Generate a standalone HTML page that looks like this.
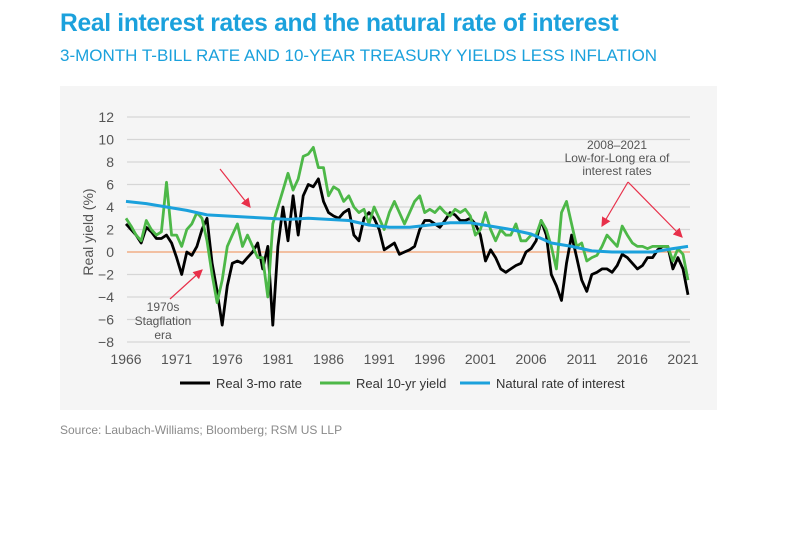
<!DOCTYPE html>
<html><head><meta charset="utf-8"><style>
body{margin:0;background:#fff;font-family:"Liberation Sans",sans-serif;}
#wrap{position:relative;width:786px;height:550px;overflow:hidden}
</style></head><body>
<div id="wrap">
<div style="position:absolute;left:60px;top:10px;font-size:24.6px;font-weight:bold;color:#1ba1dc;letter-spacing:-0.3px">Real interest rates and the natural rate of interest</div>
<div style="position:absolute;left:60px;top:46px;font-size:17px;color:#1ba1dc">3-MONTH T-BILL RATE AND 10-YEAR TREASURY YIELDS LESS INFLATION</div>
<svg id="chart" width="786" height="550" style="position:absolute;left:0;top:0">
<rect x="60" y="86" width="657" height="324" fill="#f5f5f5"/>
</svg>
<div style="position:absolute;left:60px;top:423px;font-size:12px;color:#8a8a8a">Source: Laubach-Williams; Bloomberg; RSM US LLP</div>
</div>
<script>
const years=[1966,1966.5,1967,1967.5,1968,1968.5,1969,1969.5,1970,1970.5,1971,1971.5,1972,1972.5,1973,1973.5,1974,1974.5,1975,1975.5,1976,1976.5,1977,1977.5,1978,1978.5,1979,1979.5,1980,1980.5,1981,1981.5,1982,1982.5,1983,1983.5,1984,1984.5,1985,1985.5,1986,1986.5,1987,1987.5,1988,1988.5,1989,1989.5,1990,1990.5,1991,1991.5,1992,1992.5,1993,1993.5,1994,1994.5,1995,1995.5,1996,1996.5,1997,1997.5,1998,1998.5,1999,1999.5,2000,2000.5,2001,2001.5,2002,2002.5,2003,2003.5,2004,2004.5,2005,2005.5,2006,2006.5,2007,2007.5,2008,2008.5,2009,2009.5,2010,2010.5,2011,2011.5,2012,2012.5,2013,2013.5,2014,2014.5,2015,2015.5,2016,2016.5,2017,2017.5,2018,2018.5,2019,2019.5,2020,2020.5,2021,2021.5];
const real3mo=[2.5,2.0,1.5,0.8,2.2,1.8,1.2,1.2,1.5,0.8,-0.5,-2.0,0,-0.3,0.5,2.0,3.0,-1.0,-3.5,-6.5,-3,-1.0,-0.8,-1.0,-0.5,0,0.8,-1.5,0.5,-6.5,0.5,4.0,1.0,5.0,1.5,5.0,6.0,5.8,6.5,4.5,3.5,3.2,3.0,3.5,3.8,1.5,1.0,3.0,3.5,3.0,2.0,0.2,0.5,0.8,-0.2,0,0.2,0.5,2.0,2.8,2.8,2.5,2.2,2.8,3.5,3.3,2.8,2.8,3.0,2.5,1.5,-0.8,0.2,-0.5,-1.5,-1.8,-1.5,-1.2,-1.0,0,0.3,1.0,2.8,1.5,-2.0,-3.0,-4.3,-1.0,1.5,-0.5,-2.5,-3.5,-2.0,-1.8,-1.5,-1.5,-1.8,-1.2,-0.2,-0.5,-1.0,-1.5,-1.2,-0.5,-0.5,0.2,0.5,0.5,-1.5,-0.5,-1.5,-3.8];
const real10yr=[3.0,2.3,1.5,1.0,2.8,2.0,1.5,1.8,6.2,1.5,1.5,0.5,2.0,2.5,3.5,3.0,1.0,-2.0,-4.5,-2.5,0.5,1.5,2.5,0.5,1.5,0.5,-0.5,-0.5,-4.0,2.5,4.0,5.5,7.0,5.5,6.5,8.5,8.7,9.3,7.5,7.5,5.0,5.8,5.5,4.5,5.0,4.0,3.5,3.8,2.5,4.0,3.0,2.0,3.5,4.5,3.5,2.5,3.5,4.5,5.0,3.5,3.8,3.5,4.0,3.5,3.2,3.8,3.5,3.8,3.2,1.5,2.0,3.5,2.0,1.0,2.0,1.5,1.5,2.5,1.0,1.0,1.5,1.5,2.8,2.0,0.5,-1.5,3.5,4.5,2.5,0.5,0.8,-0.8,-0.5,-0.3,0.5,1.5,1.0,0.5,2.3,1.5,0.8,0.5,0.5,0.3,0.5,0.5,0.5,0.5,-0.8,0.3,-0.2,-2.5];
const natYears=[1966,1968,1970,1972,1974,1976,1978,1980,1982,1984,1986,1988,1990,1992,1994,1996,1998,2000,2002,2004,2006,2008,2010,2012,2014,2016,2018,2020,2021.5];
const natRate=[4.5,4.3,4.0,3.7,3.3,3.2,3.1,3.0,2.9,3.0,2.9,2.8,2.4,2.2,2.2,2.4,2.6,2.6,2.3,2.0,1.6,0.8,0.5,0.1,0.0,0.0,0.0,0.3,0.5];
const yTicks=[12,10,8,6,4,2,0,-2,-4,-6,-8];
const xTicks=[1966,1971,1976,1981,1986,1991,1996,2001,2006,2011,2016,2021];

const NS="http://www.w3.org/2000/svg";
const svg=document.getElementById('chart');
const xS=v=>126+(v-1966)*10.127;
const yS=v=>252-v*11.25;
function mk(t,a){const e=document.createElementNS(NS,t);for(const k in a)e.setAttribute(k,a[k]);svg.appendChild(e);return e;}
yTicks.forEach(t=>{
  if(t!==0){const g=mk('line',{x1:127,x2:690,y1:yS(t),y2:yS(t),stroke:'#d6d6d6','stroke-width':1.2});
  
  }
  const l=mk('text',{x:114,y:yS(t)+5,'text-anchor':'end','font-size':14,fill:'#555'});l.textContent=(t<0?'\u2212'+(-t):t);
  
  
});
const z=mk('line',{x1:127,x2:690,y1:yS(0),y2:yS(0),stroke:'#f0a070','stroke-width':1.2});


xTicks.forEach(t=>{
  const l=mk('text',{x:xS(t),y:364,'text-anchor':'middle','font-size':14,fill:'#555'});l.textContent=t;
  
  
});
const yt=mk('text',{x:0,y:0,transform:'translate(93,232) rotate(-90)','text-anchor':'middle','font-size':14,fill:'#555'});yt.textContent='Real yield (%)';


function line(xs,ys,col,w,name){
  const d=xs.map((x,i)=>(i?'L':'M')+xS(x).toFixed(1)+','+yS(ys[i]).toFixed(1)).join('');
  const p=mk('path',{d:d,fill:'none',stroke:col,'stroke-width':w,'stroke-linejoin':'round'});
  
  
}
line(years,real3mo,'#000',2.8,'series-real-3mo');
line(years,real10yr,'#4db848',2.8,'series-real-10yr');
line(natYears,natRate,'#1ba1dc',3,'series-natural-rate');
mk('defs',{}).innerHTML='<marker id="ah" markerWidth="8" markerHeight="8" refX="7" refY="4" orient="auto"><path d="M0,0L8,4L0,8z" fill="#e8304a"/></marker>';
[[220,169,250,207],[170,299,202,270],[628,182,602,226],[628,182,682,237]].forEach(a=>{
  const l=mk('line',{x1:a[0],y1:a[1],x2:a[2],y2:a[3],stroke:'#e8304a','stroke-width':1.2,'marker-end':'url(#ah)'});
  
  
});
function txt(x,y,s,name){const t=mk('text',{x:x,y:y,'text-anchor':'middle','font-size':12,fill:'#555'});t.textContent=s;
  
  }
txt(163,311,'1970s','annotation-stagflation');txt(163,325,'Stagflation','annotation-stagflation');txt(163,339,'era','annotation-stagflation');
txt(617,149,'2008\u20132021','annotation-low-for-long');txt(617,162,'Low-for-Long era of','annotation-low-for-long');txt(617,175,'interest rates','annotation-low-for-long');
[[180,'#000','Real 3-mo rate'],[320,'#4db848','Real 10-yr yield'],[460,'#1ba1dc','Natural rate of interest']].forEach(e=>{
  const l=mk('line',{x1:e[0],x2:e[0]+30,y1:383,y2:383,stroke:e[1],'stroke-width':3});
  
  
  const t=mk('text',{x:e[0]+36,y:388,'font-size':13,fill:'#333'});t.textContent=e[2];
  
  
});
</script>
</body></html>
